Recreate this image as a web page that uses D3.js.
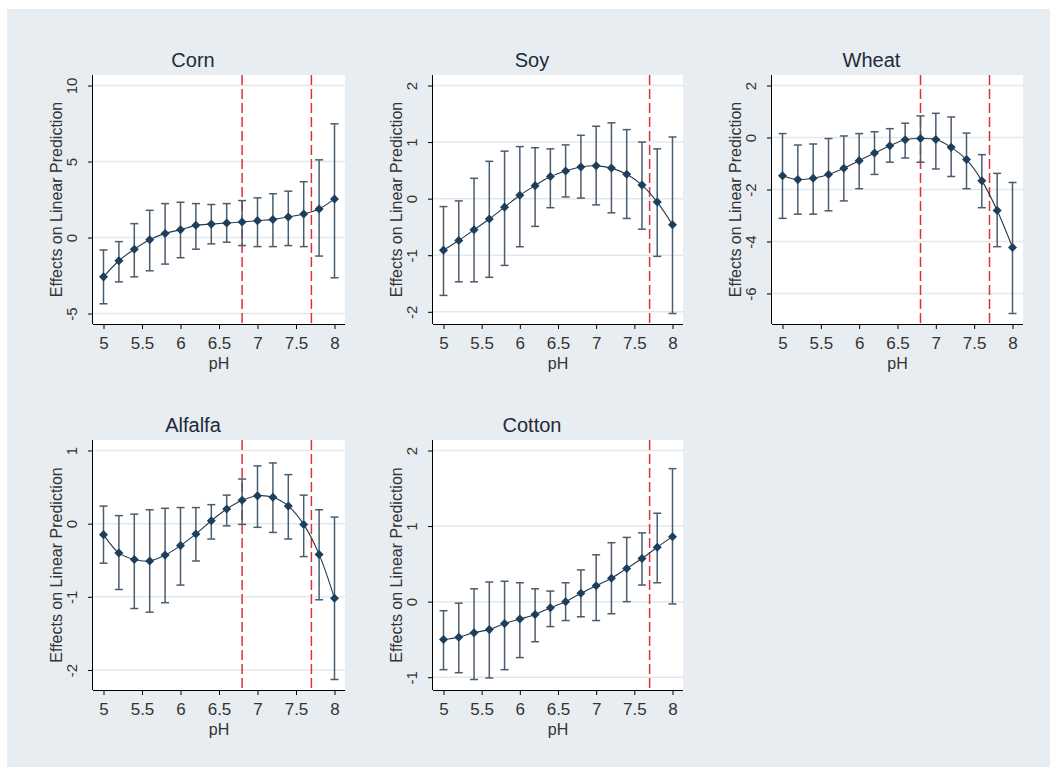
<!DOCTYPE html>
<html>
<head>
<meta charset="utf-8">
<script src="https://cdn.jsdelivr.net/npm/d3@7"></script>
<style>
  html, body { margin: 0; padding: 0; background: #ffffff; }
  svg { display: block; }
  text { font-family: "Liberation Sans", Arial, sans-serif; }
</style>
</head>
<body>
<svg id="chart" width="1050" height="767"></svg>
<script>
// pH grid at which the effects are evaluated
const ph = [5, 5.2, 5.4, 5.6, 5.8, 6, 6.2, 6.4, 6.6, 6.8, 7, 7.2, 7.4, 7.6, 7.8, 8];
const phTicks = [5, 5.5, 6, 6.5, 7, 7.5, 8];
const phTickLabels = ["5", "5.5", "6", "6.5", "7", "7.5", "8"];

// Corn: point estimates and 95% CI bounds
const cornEst = [-2.59, -1.53, -0.77, -0.15, 0.27, 0.51, 0.80, 0.88, 0.95, 1.02, 1.11, 1.19, 1.35, 1.55, 1.88, 2.54];
const cornLo  = [-4.36, -2.92, -2.59, -2.19, -1.75, -1.33, -0.77, -0.42, -0.31, -0.53, -0.60, -0.60, -0.53, -0.60, -1.22, -2.65];
const cornHi  = [-0.82, -0.27, 0.91, 1.79, 2.23, 2.32, 2.23, 2.17, 2.23, 2.43, 2.61, 2.88, 3.05, 3.67, 5.11, 7.48];
const cornTicks = [-5, 0, 5, 10];

// Soy
const soyEst = [-0.91, -0.74, -0.55, -0.36, -0.15, 0.06, 0.23, 0.39, 0.49, 0.56, 0.58, 0.54, 0.43, 0.24, -0.06, -0.46];
const soyLo  = [-1.71, -1.47, -1.47, -1.39, -1.18, -0.85, -0.49, -0.16, 0.03, 0.01, -0.11, -0.25, -0.35, -0.54, -1.02, -2.03];
const soyHi  = [-0.14, -0.04, 0.36, 0.66, 0.84, 0.92, 0.90, 0.88, 0.95, 1.12, 1.28, 1.34, 1.22, 1.00, 0.88, 1.09];
const soyTicks = [-2, -1, 0, 1, 2];

// Wheat
const wheatEst = [-1.47, -1.62, -1.57, -1.42, -1.18, -0.89, -0.60, -0.32, -0.09, -0.04, -0.08, -0.38, -0.85, -1.66, -2.81, -4.23];
const wheatLo  = [-3.11, -2.95, -2.95, -2.82, -2.44, -1.97, -1.42, -0.95, -0.79, -0.95, -1.21, -1.50, -1.97, -2.70, -4.20, -6.77];
const wheatHi  = [0.15, -0.29, -0.25, -0.04, 0.06, 0.15, 0.22, 0.34, 0.55, 0.83, 0.93, 0.79, 0.17, -0.66, -1.38, -1.73];
const wheatTicks = [-6, -4, -2, 0, 2];

// Alfalfa
const alfalfaEst = [-0.15, -0.40, -0.49, -0.51, -0.43, -0.30, -0.14, 0.04, 0.20, 0.32, 0.38, 0.36, 0.24, -0.01, -0.42, -1.02];
const alfalfaLo  = [-0.54, -0.90, -1.16, -1.21, -1.08, -0.84, -0.51, -0.21, -0.03, -0.01, -0.05, -0.12, -0.21, -0.45, -1.04, -2.13];
const alfalfaHi  = [0.24, 0.11, 0.13, 0.19, 0.21, 0.22, 0.22, 0.26, 0.39, 0.61, 0.79, 0.83, 0.67, 0.39, 0.19, 0.09];
const alfalfaTicks = [-2, -1, 0, 1];

// Cotton
const cottonEst = [-0.50, -0.47, -0.41, -0.37, -0.29, -0.23, -0.17, -0.08, 0.00, 0.11, 0.21, 0.31, 0.44, 0.57, 0.72, 0.86];
const cottonLo  = [-0.90, -0.94, -1.03, -1.01, -0.90, -0.74, -0.53, -0.33, -0.25, -0.20, -0.25, -0.16, 0.00, 0.22, 0.25, -0.03];
const cottonHi  = [-0.12, -0.02, 0.17, 0.26, 0.27, 0.25, 0.17, 0.14, 0.25, 0.42, 0.62, 0.78, 0.85, 0.91, 1.17, 1.76];
const cottonTicks = [-1, 0, 1, 2];

// Reference pH thresholds marked with dashed lines
const thresholdsBoth = [6.8, 7.7];
const thresholdsUpper = [7.7];

const panels = [
  { title: "Corn",    est: cornEst,    lo: cornLo,    hi: cornHi,    yTicks: cornTicks,    xlines: thresholdsBoth,  box: [93, 75, 345, 324] },
  { title: "Soy",     est: soyEst,     lo: soyLo,     hi: soyHi,     yTicks: soyTicks,     xlines: thresholdsUpper, box: [433, 75, 683, 324] },
  { title: "Wheat",   est: wheatEst,   lo: wheatLo,   hi: wheatHi,   yTicks: wheatTicks,   xlines: thresholdsBoth,  box: [772, 75, 1023, 324] },
  { title: "Alfalfa", est: alfalfaEst, lo: alfalfaLo, hi: alfalfaHi, yTicks: alfalfaTicks, xlines: thresholdsBoth,  box: [93, 440, 345, 690] },
  { title: "Cotton",  est: cottonEst,  lo: cottonLo,  hi: cottonHi,  yTicks: cottonTicks,  xlines: thresholdsUpper, box: [433, 440, 683, 690] }
];

const svg = d3.select("#chart");

// graph background
svg.append("rect").attr("x", 7).attr("y", 9).attr("width", 1043).attr("height", 758).attr("fill", "#e8edf1");

const pad = 10.5;
const navy = "#1d3f5e";
const barColor = "#4b5c6d";
const textColor = "#333333";

panels.forEach(p => {
  const [L, T, R, B] = p.box;
  const g = svg.append("g");

  const x = d3.scaleLinear().domain([5, 8]).range([L + pad, R - pad]);
  const yMin = d3.min([...p.lo, ...p.yTicks]);
  const yMax = d3.max([...p.hi, ...p.yTicks]);
  const y = d3.scaleLinear().domain([yMin, yMax]).range([B - pad, T + pad]);

  // plot region
  g.append("rect").attr("x", L).attr("y", T).attr("width", R - L).attr("height", B - T).attr("fill", "#ffffff");

  // horizontal grid
  g.selectAll(".grid").data(p.yTicks).join("line")
    .attr("x1", L).attr("x2", R)
    .attr("y1", d => y(d)).attr("y2", d => y(d))
    .attr("stroke", "#e4e8eb").attr("stroke-width", 1.5);

  // threshold lines
  g.selectAll(".xl").data(p.xlines).join("line")
    .attr("x1", d => x(d)).attr("x2", d => x(d))
    .attr("y1", T).attr("y2", B)
    .attr("stroke", "#d8333a").attr("stroke-width", 1.5)
    .attr("stroke-dasharray", "10,4");

  const rows = ph.map((v, i) => ({ x: v, est: p.est[i], lo: p.lo[i], hi: p.hi[i] }));

  // confidence intervals
  const bars = g.append("g").attr("stroke", barColor).attr("stroke-width", 1.5).attr("fill", "none");
  bars.selectAll(".v").data(rows).join("line")
    .attr("x1", d => x(d.x)).attr("x2", d => x(d.x))
    .attr("y1", d => y(d.lo)).attr("y2", d => y(d.hi));
  bars.selectAll(".cl").data(rows).join("line")
    .attr("x1", d => x(d.x) - 4).attr("x2", d => x(d.x) + 4)
    .attr("y1", d => y(d.lo)).attr("y2", d => y(d.lo));
  bars.selectAll(".ch").data(rows).join("line")
    .attr("x1", d => x(d.x) - 4).attr("x2", d => x(d.x) + 4)
    .attr("y1", d => y(d.hi)).attr("y2", d => y(d.hi));

  // connecting line
  const line = d3.line().x(d => x(d.x)).y(d => y(d.est)).curve(d3.curveCatmullRom.alpha(0.5));
  g.append("path").datum(rows).attr("d", line)
    .attr("fill", "none").attr("stroke", "#26384a").attr("stroke-width", 1.1);

  // markers
  g.selectAll(".m").data(rows).join("path")
    .attr("transform", d => `translate(${x(d.x)},${y(d.est)})`)
    .attr("d", d3.symbol().type(d3.symbolDiamond2).size(52))
    .attr("fill", navy);

  // axes
  const xAxis = d3.axisBottom(x).tickValues(phTicks).tickFormat((d, i) => phTickLabels[i]).tickSize(5).tickPadding(4);
  const xg = g.append("g").attr("transform", `translate(0,${B})`).call(xAxis);
  xg.select(".domain").attr("d", `M${L},0.5H${R}`).attr("stroke", "#000");
  xg.selectAll(".tick line").attr("stroke", "#000");
  xg.selectAll(".tick text").attr("font-size", 17).attr("fill", textColor).attr("dy", null).attr("y", 25);

  // y labels use a plain hyphen for negatives
  const yAxis = d3.axisLeft(y).tickValues(p.yTicks).tickFormat(d => String(d)).tickSize(5);
  const yg = g.append("g").attr("transform", `translate(${L},0)`).call(yAxis);
  yg.select(".domain").attr("d", `M-0.5,${T}V${B}`).attr("stroke", "#000");
  yg.selectAll(".tick line").attr("stroke", "#000");
  yg.selectAll(".tick text")
    .attr("font-size", 15).attr("fill", textColor)
    .attr("x", null).attr("dy", null)
    .attr("text-anchor", "middle")
    .attr("transform", "translate(-16,0) rotate(-90)");

  // axis titles
  g.append("text").attr("x", (L + R) / 2).attr("y", B + 45)
    .attr("text-anchor", "middle").attr("font-size", 16).attr("fill", textColor).text("pH");
  g.append("text")
    .attr("transform", `translate(${L - 31},${(T + B) / 2}) rotate(-90)`)
    .attr("text-anchor", "middle").attr("font-size", 16).attr("fill", textColor)
    .text("Effects on Linear Prediction");

  // panel title
  g.append("text").attr("x", (L - 52 + R) / 2).attr("y", T - 8)
    .attr("text-anchor", "middle").attr("font-size", 20).attr("fill", "#1e2a38")
    .text(p.title);
});
</script>
</body>
</html>
